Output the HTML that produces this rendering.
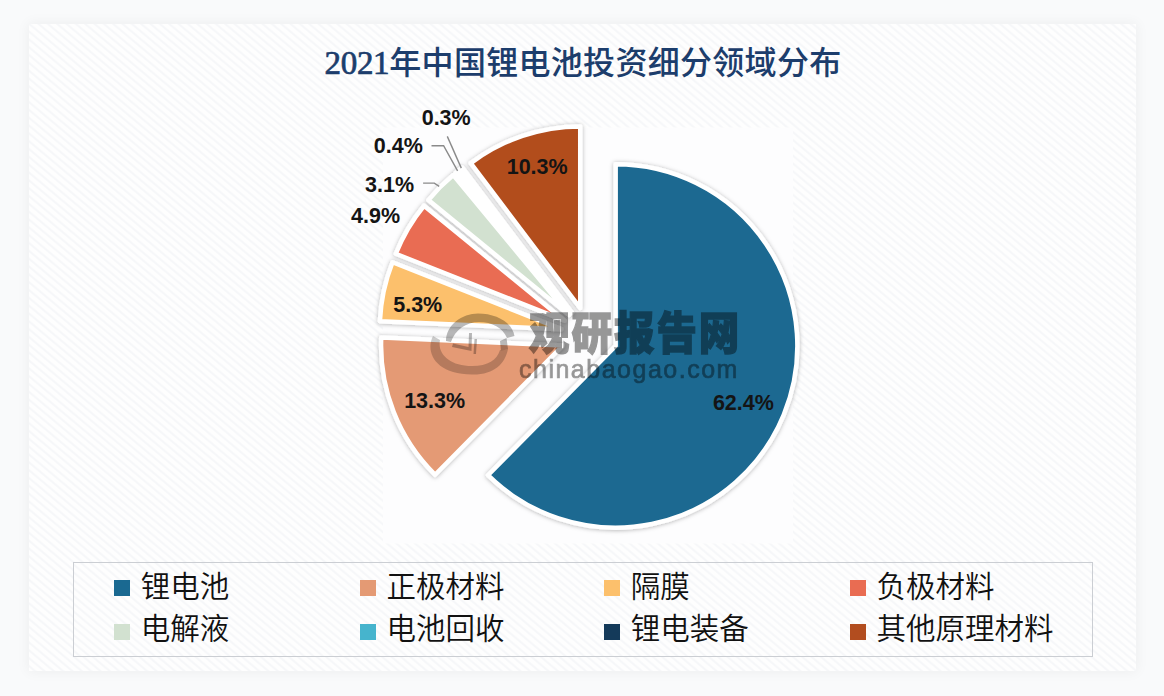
<!DOCTYPE html>
<html><head><meta charset="utf-8">
<style>
html,body{margin:0;padding:0;}
body{width:1164px;height:696px;position:relative;overflow:hidden;background:#f9fafb;font-family:"Liberation Sans","Noto Sans CJK SC",sans-serif;}
.card{position:absolute;left:29px;top:24px;width:1107px;height:647px;
background-color:#fbfbfc;
background-image:repeating-linear-gradient(40deg,#fefefe 0px,#fefefe 2.2px,#f6f7f9 3.4px,#f6f7f9 4.2px,#fefefe 5.6px,#fefefe 6px);
box-shadow:0 0 12px 1px rgba(0,0,0,0.05);}
.title{position:absolute;left:324.5px;top:37.5px;font-size:32px;line-height:44px;color:#1c3d6c;white-space:nowrap;font-family:"Liberation Serif","Noto Sans CJK SC",serif;font-weight:700;letter-spacing:0px;}
.title .cj{font-family:"Noto Sans CJK SC",sans-serif;font-weight:500;letter-spacing:0.3px;}
.title .num{font-weight:400;font-size:33px;letter-spacing:-0.3px;-webkit-text-stroke:0.7px #1c3d6c;}
.legend{position:absolute;left:72.6px;top:562.2px;width:1018px;height:92.5px;border:1.8px solid #cbced3;
background-color:#fcfcfd;background-image:repeating-linear-gradient(40deg,#fefefe 0px,#fefefe 2.2px,#f6f7f9 3.4px,#f6f7f9 4.2px,#fefefe 5.6px,#fefefe 6px);}
.sq{position:absolute;width:15.6px;height:15.6px;}
.lt{position:absolute;font-family:"Noto Sans CJK SC",sans-serif;font-weight:350;font-size:29.5px;line-height:40px;color:#111;white-space:nowrap;}
svg{position:absolute;left:0;top:0;}
.lbl{font-family:"Liberation Sans",sans-serif;font-weight:700;font-size:21.5px;fill:#141414;}
</style></head><body>
<div class="card"></div>
<div class="title"><span class="num">2021</span><span class="cj">年中国锂电池投资细分领域分布</span></div>
<svg width="1164" height="696" viewBox="0 0 1164 696">
<defs>
<filter id="sh" x="-20%" y="-20%" width="140%" height="140%">
<feDropShadow dx="0" dy="0.5" stdDeviation="2.2" flood-color="#000" flood-opacity="0.3"/>
</filter>
</defs>
<rect x="383" y="127.5" width="410" height="416" fill="#fdfdfe"/>
<g filter="url(#sh)" stroke="#fff" stroke-width="4.5" stroke-linejoin="round">
<path d="M615.66 345.92 L615.66 164.22 A181.7 181.7 0 1 1 487.99 475.21 Z" fill="#1a6991"/>
<path d="M562.77 345.51 L435.10 474.79 A181.7 181.7 0 0 1 381.24 337.52 Z" fill="#e49a74"/>
<path d="M561.43 329.15 L379.90 321.16 A181.7 181.7 0 0 1 392.49 262.26 Z" fill="#fcc06c"/>
<path d="M564.72 320.67 L395.78 253.78 A181.7 181.7 0 0 1 424.00 205.73 Z" fill="#e96c52"/>
<path d="M569.08 315.01 L428.36 200.07 A181.7 181.7 0 0 1 453.26 175.01 Z" fill="#d2e1d0"/>
<path d="M571.41 312.91 L455.59 172.91 A181.7 181.7 0 0 1 459.15 170.05 Z" fill="#46b4cd"/>
<path d="M571.90 312.53 L459.64 169.66 A181.7 181.7 0 0 1 462.35 167.57 Z" fill="#143a5a"/>
<path d="M580.24 308.08 L470.69 163.12 A181.7 181.7 0 0 1 580.24 126.38 Z" fill="#b24d1f"/>
</g>
<g id="wm">
<g fill="#000" opacity="0.27">
<path d="M446,341 C446,325 462,313.5 478,313.5 C496,313.5 512,322 514.5,336 L507,338 C503,328 492,322 479,322 C466,322 455,330 451,342 Z"/>
<path opacity="0.75" d="M433,336 C425,352 435,374 472,374.5 C494,375 505,364 508,349 L500,350 C497,360 488,366 472,366 C450,366 437,354 440,340 Z"/>
<path d="M506.5,338 L508,349 L501,351 L500,341 Z"/>
<path d="M469,333 L472,333 L471.5,351 L452,347 L453,343.5 L468.5,347 Z"/>
<path d="M474.5,339 L477,339 L476,354 L473.5,354 Z"/>
</g>
<g opacity="0.4">
<text x="529" y="350" transform="translate(529,0) scale(0.9,1) translate(-529,0)" style="font-family:'Noto Sans CJK SC',sans-serif;font-weight:900;font-size:45px;letter-spacing:2.2px" fill="#000" stroke="#000" stroke-width="1.4">观研报告网</text>
<text x="519" y="377.5" style="font-family:'Liberation Sans',sans-serif;font-size:25px;letter-spacing:1.5px" fill="#000" stroke="#000" stroke-width="0.7">chinabaogao.com</text>
</g>
</g>
<g stroke="#8a8a8a" stroke-width="1.4" fill="none">
<polyline points="431.5,145.7 443.6,145.7 457.6,170.9"/>
<polyline points="447.3,136.4 461.3,168.1"/>
<polyline points="423.1,183.1 434.3,183.1 439.2,186.3"/>
</g>
<g class="lbl" text-anchor="middle">
<text x="446.2" y="125.2">0.3%</text>
<text x="398.3" y="153.2">0.4%</text>
<text x="389.6" y="191.7">3.1%</text>
<text x="375.6" y="223.4">4.9%</text>
<text x="417.75" y="311.6">5.3%</text>
<text x="434.65" y="407.8">13.3%</text>
<text x="537.2" y="173.6">10.3%</text>
<text x="743.4" y="409.6">62.4%</text>
</g>
</svg>
<div class="legend"></div>
<div class="sq" style="left:114.2px;top:580.0px;background:#1a6991"></div>
<div class="lt" style="left:140.7px;top:564.0px">锂电池</div>
<div class="sq" style="left:360.1px;top:580.0px;background:#e49a74"></div>
<div class="lt" style="left:386.6px;top:564.0px">正极材料</div>
<div class="sq" style="left:604.2px;top:580.0px;background:#fcc06c"></div>
<div class="lt" style="left:630.7px;top:564.0px">隔膜</div>
<div class="sq" style="left:850.0px;top:580.0px;background:#e96c52"></div>
<div class="lt" style="left:876.5px;top:564.0px">负极材料</div>
<div class="sq" style="left:114.2px;top:624.2px;background:#d2e1d0"></div>
<div class="lt" style="left:140.7px;top:606.1px">电解液</div>
<div class="sq" style="left:360.1px;top:624.2px;background:#46b4cd"></div>
<div class="lt" style="left:386.6px;top:606.1px">电池回收</div>
<div class="sq" style="left:604.2px;top:624.2px;background:#143a5a"></div>
<div class="lt" style="left:630.7px;top:606.1px">锂电装备</div>
<div class="sq" style="left:850.0px;top:624.2px;background:#b24d1f"></div>
<div class="lt" style="left:876.5px;top:606.1px">其他原理材料</div>
</body></html>
